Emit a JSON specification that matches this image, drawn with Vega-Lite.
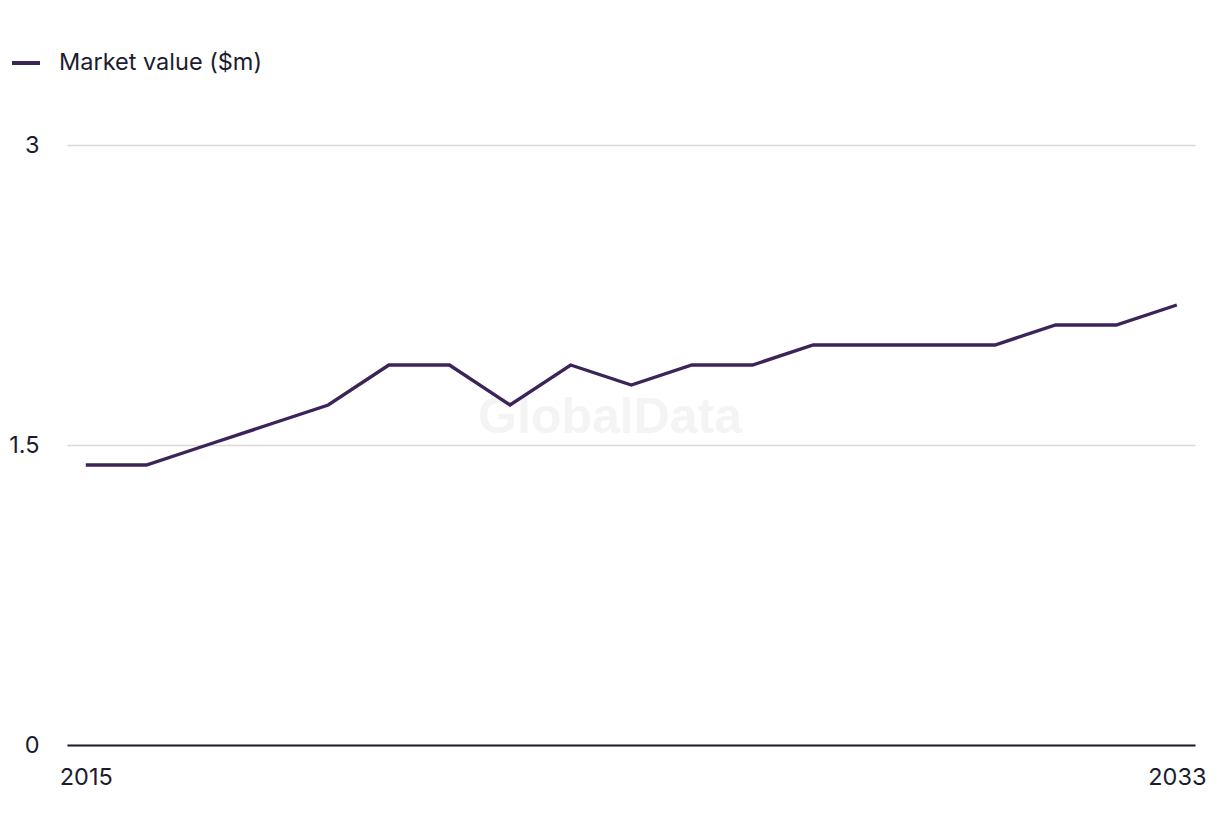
{
  "$schema": "https://vega.github.io/schema/vega-lite/v6.json",
  "width": 1128,
  "height": 600,
  "autosize": {"type": "none"},
  "padding": {"left": 67, "top": 145, "right": 25, "bottom": 91},
  "background": "white",
  "config": {
    "view": {"stroke": null},
    "font": "Inter",
    "axis": {"labelFont": "Inter", "labelFontSize": 23.5, "labelColor": "#1c1c2f"},
    "legend": {"labelFont": "Inter", "labelFontSize": 23.5, "labelColor": "#1c1c2f"}
  },
  "datasets": {
    "market": [
      {"year": 2015, "value": 1.4, "series": "Market value ($m)"},
      {"year": 2016, "value": 1.4, "series": "Market value ($m)"},
      {"year": 2017, "value": 1.5, "series": "Market value ($m)"},
      {"year": 2018, "value": 1.6, "series": "Market value ($m)"},
      {"year": 2019, "value": 1.7, "series": "Market value ($m)"},
      {"year": 2020, "value": 1.9, "series": "Market value ($m)"},
      {"year": 2021, "value": 1.9, "series": "Market value ($m)"},
      {"year": 2022, "value": 1.7, "series": "Market value ($m)"},
      {"year": 2023, "value": 1.9, "series": "Market value ($m)"},
      {"year": 2024, "value": 1.8, "series": "Market value ($m)"},
      {"year": 2025, "value": 1.9, "series": "Market value ($m)"},
      {"year": 2026, "value": 1.9, "series": "Market value ($m)"},
      {"year": 2027, "value": 2.0, "series": "Market value ($m)"},
      {"year": 2028, "value": 2.0, "series": "Market value ($m)"},
      {"year": 2029, "value": 2.0, "series": "Market value ($m)"},
      {"year": 2030, "value": 2.0, "series": "Market value ($m)"},
      {"year": 2031, "value": 2.1, "series": "Market value ($m)"},
      {"year": 2032, "value": 2.1, "series": "Market value ($m)"},
      {"year": 2033, "value": 2.2, "series": "Market value ($m)"}
    ],
    "watermark": [{"label": "GlobalData", "year": 2023.65, "value": 1.635}]
  },
  "layer": [
    {
      "data": {"name": "watermark"},
      "mark": {"type": "text", "font": "Liberation Sans", "fontWeight": "bold", "fontSize": 50, "color": "#f4f4f4", "align": "center", "baseline": "middle"},
      "encoding": {
        "x": {
          "field": "year", "type": "quantitative",
          "scale": {"domain": [2014.69, 2033.3], "nice": false, "zero": false},
          "axis": {
            "title": null, "values": [2015, 2033], "format": "d", "grid": false,
            "domain": true, "domainColor": "#1c1c2f", "domainWidth": 2,
            "ticks": false, "labelPadding": 20, "labelBaseline": "top"
          }
        },
        "y": {
          "field": "value", "type": "quantitative",
          "scale": {"domain": [0, 3], "nice": false},
          "axis": {
            "title": null, "values": [0, 1.5, 3], "format": ".2~f", "domain": false, "ticks": false,
            "grid": true, "gridColor": "#d9d9d9", "gridWidth": 1.5,
            "labelAlign": "right", "labelBaseline": "middle", "labelPadding": 28
          }
        },
        "text": {"field": "label"}
      }
    },
    {
      "data": {"name": "market"},
      "mark": {"type": "line", "strokeWidth": 3.4, "strokeJoin": "miter"},
      "encoding": {
        "x": {"field": "year", "type": "quantitative"},
        "y": {"field": "value", "type": "quantitative"},
        "color": {
          "field": "series", "type": "nominal",
          "scale": {"range": ["#3a2458"]},
          "legend": {
            "title": null, "orient": "none", "legendX": -57, "legendY": -98,
            "symbolType": "stroke", "symbolSize": 784, "symbolStrokeWidth": 4,
            "labelOffset": 17, "labelLimit": 400
          }
        }
      }
    }
  ]
}
